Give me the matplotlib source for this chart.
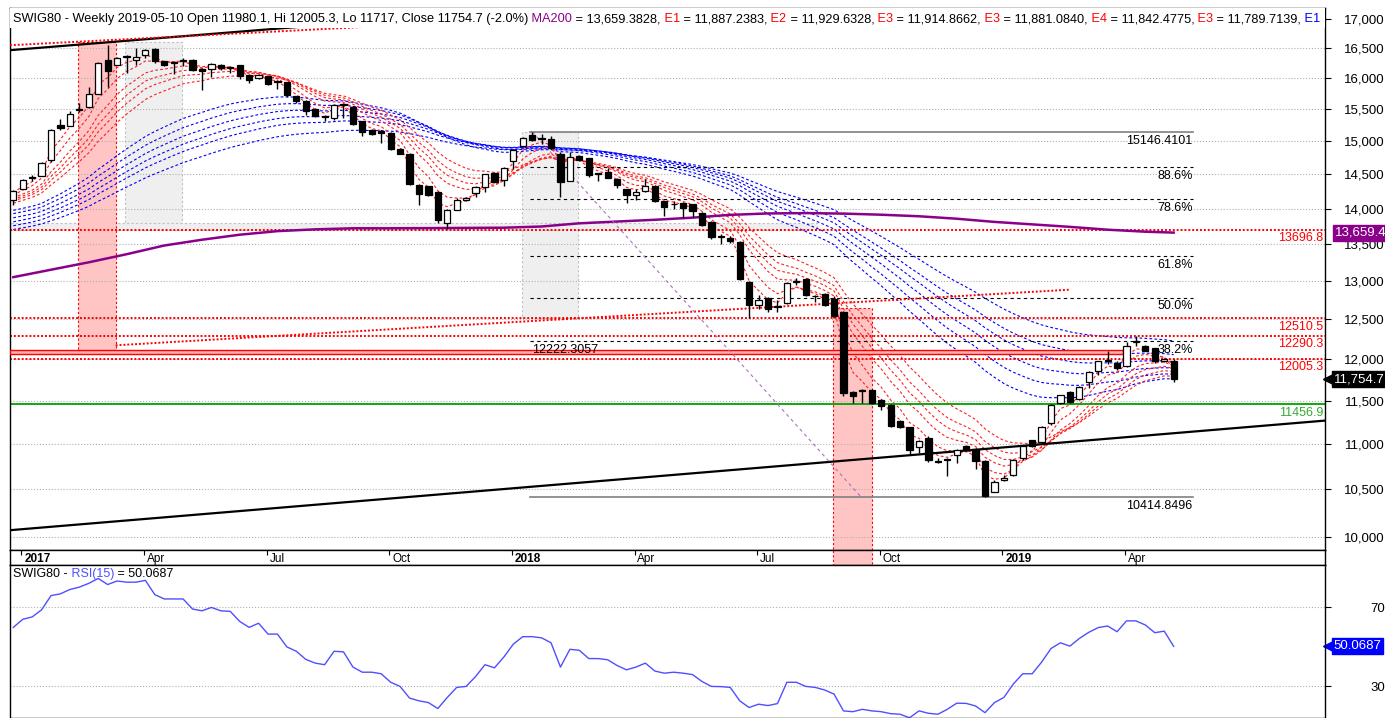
import matplotlib
matplotlib.use("Agg")
import matplotlib.pyplot as plt
from matplotlib.patches import Rectangle
from matplotlib.ticker import FixedLocator, NullLocator, FuncFormatter
import matplotlib.transforms as mtransforms
import numpy as np
import pandas as pd

plt.rcParams['font.family'] = ['Liberation Sans', 'DejaVu Sans']

# weekly bars, first = week ending 2016-12-30, last = 2019-05-10
opens = [14125, 14290, 14440, 14480, 14707, 15245, 15237, 15490, 15530, 15747,
         16300, 16220, 16370, 16300, 16380, 16480, 16280, 16255, 16290, 16305,
         16150, 16155, 16220, 16190, 16210, 16060, 16000, 16030, 15957, 15935,
         15705, 15630, 15505, 15380, 15360, 15560, 15532, 15310, 15180, 15165,
         15134, 14886, 14810, 14345, 14320, 14238, 13790, 13980, 14120, 14219,
         14311, 14525, 14417, 14698, 14926, 15088, 15040, 15036, 14812, 14408,
         14772, 14738, 14505, 14530, 14432, 14277, 14190, 14247, 14330, 14102,
         14060, 14078, 14063, 13933, 13814, 13600, 13590, 13529, 12988, 12677,
         12775, 12660, 12710, 12985, 13027, 12795, 12828, 12762, 12587, 11602,
         11610, 11626, 11504, 11444, 11263, 11188, 10964, 11064, 10810, 10825,
         10880, 10975, 10945, 10812, 10475, 10600, 10656, 10848, 11040, 11026,
         11237, 11466, 11606, 11520, 11720, 11854, 11975, 11951, 11910, 12210,
         12163, 12133, 11971, 11980.1]
highs = [14270, 14430, 14490, 14680, 15185, 15350, 15465, 15600, 15855, 16260,
         16560, 16350, 16385, 16500, 16490, 16500, 16290, 16275, 16340, 16315,
         16160, 16255, 16240, 16200, 16220, 16070, 16070, 16040, 15965, 15945,
         15710, 15640, 15515, 15412, 15580, 15597, 15545, 15320, 15195, 15170,
         15140, 14895, 14820, 14355, 14330, 14250, 13990, 14150, 14170, 14320,
         14510, 14540, 14610, 14880, 15060, 15146.41, 15113, 15077, 14830, 14840,
         14790, 14750, 14510, 14590, 14445, 14290, 14277, 14427, 14340, 14110,
         14102, 14090, 14070, 13957, 13820, 13640, 13614, 13540, 13000, 12810,
         12790, 12744, 12990, 13040, 13040, 12815, 12840, 12800, 12600, 11615,
         11640, 11635, 11515, 11455, 11270, 11195, 11040, 11085, 10844, 10844,
         10945, 10990, 10955, 10820, 10600, 10656, 10837, 10990, 11050, 11200,
         11460, 11570, 11615, 11675, 11850, 11980, 12104, 11980, 12217, 12283,
         12170, 12140, 12010, 12005.3]
lows = [14050, 14280, 14400, 14470, 14690, 15170, 15230, 15450, 15520, 15740,
        15855, 16210, 16090, 16225, 16340, 16255, 16200, 16065, 16200, 16115,
        15800, 16020, 16130, 16090, 15980, 15915, 15980, 15890, 15817, 15700,
        15600, 15412, 15370, 15310, 15325, 15360, 15250, 15077, 15100, 14980,
        14860, 14800, 14340, 14053, 14180, 13790, 13710, 13975, 14110, 14160,
        14238, 14380, 14320, 14580, 14910, 15010, 14960, 14880, 14160, 14400,
        14700, 14466, 14403, 14440, 14296, 14078, 14126, 14240, 14100, 13900,
        13995, 13862, 13886, 13750, 13567, 13500, 13520, 13010, 12513, 12633,
        12598, 12598, 12700, 12940, 12800, 12720, 12670, 12530, 11553, 11474,
        11474, 11460, 11391, 11190, 11180, 10873, 10902, 10800, 10783, 10649,
        10793, 10925, 10721, 10414.85, 10470, 10590, 10650, 10819, 10965, 11000,
        11218, 11460, 11466, 11510, 11655, 11805, 11939, 11870, 11900, 12167,
        12095, 11951, 11960, 11717]
closes = [14260, 14414, 14460, 14672, 15175, 15200, 15430, 15510, 15742, 16245,
          16120, 16340, 16345, 16345, 16475, 16280, 16220, 16270, 16300, 16130,
          16115, 16235, 16160, 16170, 16040, 15978, 16060, 15909, 15930, 15720,
          15630, 15464, 15390, 15375, 15570, 15575, 15273, 15144, 15118, 15128,
          14884, 14812, 14354, 14210, 14200, 13838, 13980, 14125, 14150, 14306,
          14500, 14393, 14600, 14871, 15045, 15025, 15030, 14896, 14393, 14762,
          14713, 14490, 14500, 14452, 14345, 14190, 14238, 14320, 14112, 14029,
          14070, 14015, 13967, 13767, 13600, 13610, 13540, 13032, 12677, 12744,
          12633, 12670, 12974, 12995, 12815, 12800, 12683, 12542, 11594, 11553,
          11615, 11466, 11436, 11203, 11192, 10928, 11030, 10819, 10800, 10830,
          10928, 10938, 10812, 10430, 10576, 10627, 10826, 10982, 10978, 11192,
          11451, 11561, 11489, 11663, 11838, 11971, 11988, 11894, 12167, 12217,
          12104, 11979, 12000, 11754.7]

rsi15 = [59.7, 63.8, 65.0, 68.6, 75.8, 76.7, 78.9, 80.1, 82.0, 84.5,
         81.4, 83.2, 82.6, 82.6, 83.5, 76.3, 74.1, 74.1, 74.1, 69.0,
         68.1, 69.8, 68.1, 67.8, 62.7, 59.7, 61.8, 56.3, 56.3, 49.8,
         47.6, 43.5, 41.6, 40.8, 47.6, 47.3, 39.6, 37.0, 37.0, 36.2,
         31.9, 29.8, 23.9, 22.5, 21.6, 18.6, 24.2, 29.3, 29.8, 34.8,
         40.8, 39.2, 44.7, 51.2, 55.0, 55.0, 54.4, 51.9, 39.6, 48.6,
         48.1, 43.9, 43.9, 43.3, 40.4, 38.2, 39.6, 41.6, 37.6, 36.5,
         37.0, 36.5, 35.8, 32.3, 29.8, 29.7, 29.3, 22.5, 19.1, 20.8,
         20.1, 21.1, 31.9, 31.9, 29.8, 29.3, 28.0, 25.9, 17.4, 17.0,
         18.2, 17.4, 17.0, 16.0, 15.7, 13.9, 17.4, 16.2, 15.7, 18.2,
         21.3, 21.2, 19.9, 16.5, 21.6, 24.2, 31.0, 36.2, 36.2, 42.1,
         49.0, 51.9, 50.2, 54.1, 57.2, 59.6, 60.4, 57.5, 63.0, 63.0,
         60.9, 57.0, 57.8, 50.0687]

# MA200 read every few weeks
ma200_week = [0, 4, 8, 12, 16, 20, 24, 28, 32, 36, 40, 44, 48, 52, 56, 60,
              64, 68, 72, 76, 80, 84, 88, 92, 96, 100, 104, 108, 112, 116, 120, 123]
ma200_val = [13050, 13150, 13250, 13360, 13480, 13560, 13630, 13680, 13705, 13720,
             13720, 13722, 13725, 13728, 13745, 13790, 13815, 13840, 13870, 13910,
             13930, 13935, 13928, 13912, 13890, 13855, 13810, 13775, 13740, 13700,
             13672, 13659.4]

short_spans = [3, 5, 8, 10, 12, 15]
short_seed = [14200, 14160, 14120, 14100, 14080, 14050]
long_spans = [30, 35, 40, 45, 50, 60]
long_seed = [13955, 13908, 13848, 13791, 13735, 13684]

red_levels = [13696.8, 12510.5, 12290.3, 12005.3]
green_level = 11456.9
fib_hi = 15146.4101
fib_lo = 10414.8496
fib_pcts = [0.886, 0.786, 0.618, 0.5, 0.382]

# shaded zones: (week from, week to, price lo, price hi)
pink_zones = [(6.85, 10.85, 12117, 16610), (86.9, 91.0, 9000, 12640)]
grey_zones = [(11.87, 17.85, 13696.8, 16610), (53.9, 59.9, 12510.5, 15146.41),
              (-0.35, 85.2, 13696.8, 13800)]

n = len(closes)
weeks = pd.date_range("2016-12-30", periods=n, freq="W-FRI")
idx = np.arange(n)
o, h, l, c = (np.array(v, dtype=float) for v in (opens, highs, lows, closes))


def ema(vals, span, seed):
    a = 2.0 / (span + 1)
    e = seed
    out = []
    for v in vals:
        e = e + a * (v - e)
        out.append(e)
    return np.array(out)


def log_line(ax, p0, p1, x_from, x_to, **kw):
    (i0, v0), (i1, v1) = p0, p1
    k = (np.log(v1) - np.log(v0)) / (i1 - i0)
    xs = np.array([x_from, x_to])
    ax.plot(xs, v0 * np.exp(k * (xs - i0)), **kw)


def pieces_text(ax, x, y, pieces, **kw):
    t = ax.text(x, y, pieces[0][0], color=pieces[0][1], transform=ax.transAxes,
                va='bottom', ha='left', **kw)
    for s, col in pieces[1:]:
        t = ax.annotate(s, xy=(1, 0), xycoords=t, color=col, va='bottom', ha='left', **kw)
    return t


W, H = 1385, 718
fig = plt.figure(figsize=(W / 100, H / 100), dpi=100)


def px_axes(x0, y0, x1, y1):
    return fig.add_axes([x0 / W, 1 - y1 / H, (x1 - x0) / W, (y1 - y0) / H])


ax = px_axes(10, 8, 1325, 550)
axd = px_axes(10, 550, 1325, 565)
axr = px_axes(10, 565, 1325, 718)

xlim = (-0.35, 139.04)
ax.set_yscale('log')
ax.set_ylim(9868, 17193)
for a in (ax, axd, axr):
    a.set_xlim(*xlim)
    a.set_xticks([])
    for s in a.spines.values():
        s.set_linewidth(1.0)
        s.set_color('black')

# zones
for x0, x1, lo, hi in pink_zones:
    ax.add_patch(Rectangle((x0, lo), x1 - x0, hi - lo, facecolor='#ffc4c4',
                           edgecolor='red', ls=(0, (2, 2)), lw=0.8, zorder=1))
for x0, x1, lo, hi in grey_zones:
    ax.add_patch(Rectangle((x0, lo), x1 - x0, hi - lo, facecolor='#efefef',
                           edgecolor='#c0c0c0', ls=(0, (2, 2)), lw=0.8, zorder=0.5))
axd.axvspan(pink_zones[1][0], pink_zones[1][1], facecolor='#ffc4c4',
            edgecolor='red', ls=(0, (2, 2)), lw=0.8)

# grid
ax.yaxis.set_major_locator(FixedLocator(list(range(10000, 17001, 500))))
ax.yaxis.set_minor_locator(NullLocator())
ax.yaxis.set_major_formatter(FuncFormatter(lambda v, p: f"{int(round(v)):,}"))
ax.grid(axis='y', ls=':', color='#b0b0b0', lw=0.8, zorder=0.8)
ax.yaxis.tick_right()
ax.tick_params(axis='y', direction='out', length=4, pad=39, labelsize=9.5)
for t in ax.get_yticklabels():
    t.set_ha('right')

# guppy averages
for sp, sd in zip(long_spans, long_seed):
    ax.plot(idx, ema(c, sp, sd), color='#0000ff', lw=0.8, ls=(0, (2.5, 2)), zorder=2)
for sp, sd in zip(short_spans, short_seed):
    ax.plot(idx, ema(c, sp, sd), color='#ff2020', lw=0.8, ls=(0, (2.5, 2)), zorder=2.1)

ax.plot(ma200_week, ma200_val, color='#8b008b', lw=1.8, zorder=3)

# horizontal levels
bt = mtransforms.blended_transform_factory(ax.transAxes, ax.transData)
for lv in red_levels:
    ax.axhline(lv, color='red', ls=(0, (1, 1)), lw=1.4, zorder=2.5)
    ax.text(0.9985, lv * 0.9975, f"{lv}", color='red', fontsize=9, ha='right', va='top',
            transform=bt)
ax.axhline(green_level, color='#00a000', lw=1.3, zorder=2.5)
ax.text(0.9985, green_level * 0.9975, f"{green_level}", color='#33aa33', fontsize=9,
        ha='right', va='top', transform=bt)
ax.add_patch(Rectangle((-0.35, 12060), 118.0, 50, facecolor='#ffb0b0', edgecolor='red',
                       lw=1.0, zorder=2.6))

# fibonacci
fx0, fx1 = 54.8, 125.0
ax.plot([fx0, fx1], [fib_hi, fib_hi], color='#808080', lw=1.2, zorder=2.4)
ax.plot([fx0, fx1], [fib_lo, fib_lo], color='#808080', lw=1.2, zorder=2.4)
ax.text(fx1, fib_hi * 0.997, f"{fib_hi}", fontsize=9, ha='right', va='top')
ax.text(fx1, fib_lo * 0.997, f"{fib_lo}", fontsize=9, ha='right', va='top')
for p in fib_pcts:
    lv = fib_lo + p * (fib_hi - fib_lo)
    ax.plot([fx0, fx1], [lv, lv], color='black', lw=0.8, ls=(0, (3, 3)), zorder=2.4)
    ax.text(fx1, lv * 0.997, f"{p * 100:.1f}%", fontsize=9, ha='right', va='top')
lv382 = fib_lo + 0.382 * (fib_hi - fib_lo)
ax.text(fx0 + 0.2, lv382 * 0.997, f"{lv382:.4f}", fontsize=9, ha='left', va='top')

# trend lines
log_line(ax, (0, 10073), (123, 11122), xlim[0], xlim[1], color='black', lw=1.6, zorder=3)
log_line(ax, (-0.2, 16468), (30, 16860), xlim[0], 45, color='black', lw=1.6, zorder=3)
log_line(ax, (-0.17, 16551), (30.7, 16808), xlim[0], 40, color='red', ls=(0, (1, 1)),
         lw=1.4, zorder=3)
log_line(ax, (10.85, 12170), (112, 12884), 10.85, 112, color='red', ls=(0, (1, 1)),
         lw=1.4, zorder=3)
ax.plot([55, 89.9], [fib_hi, fib_lo], color='#b070c0', lw=0.8, ls=(0, (3, 3)), zorder=3)

# candles
up = c >= o
blo = np.minimum(o, c)
bh = np.maximum(np.abs(c - o), blo * 0.0009)
ax.vlines(idx, l, h, color='black', lw=1.0, zorder=5)
ax.bar(idx[up], bh[up], bottom=blo[up], width=0.66, facecolor='white',
       edgecolor='black', lw=0.9, zorder=6)
ax.bar(idx[~up], bh[~up], bottom=blo[~up], width=0.66, facecolor='black',
       edgecolor='black', lw=0.9, zorder=6)

# title band
ax.add_patch(Rectangle((0, (550 - 28) / 542), 1, 28 / 542, transform=ax.transAxes,
                       facecolor='white', edgecolor='none', zorder=8))
title = [("SWIG80 - Weekly 2019-05-10 Open 11980.1, Hi 12005.3, Lo 11717, Close 11754.7 (-2.0%)", 'black'),
         (" MA200", '#8b008b'), (" = 13,659.3828,", 'black'),
         (" E1", 'red'), (" = 11,887.2383,", 'black'),
         (" E2", 'red'), (" = 11,929.6328,", 'black'),
         (" E3", 'red'), (" = 11,914.8662,", 'black'),
         (" E3", 'red'), (" = 11,881.0840,", 'black'),
         (" E4", 'red'), (" = 11,842.4775,", 'black'),
         (" E3", 'red'), (" = 11,789.7139,", 'black'),
         (" E1", 'blue')]
pieces_text(ax, 0.0023, (550 - 25) / 542, title, fontsize=9.2, zorder=9)

# right-edge value tags
ax.text(1.0065, closes[-1], f"{closes[-1]:,.1f}", transform=bt, color='white', fontsize=9.5,
        va='center', ha='left', clip_on=False, zorder=10,
        bbox=dict(boxstyle='square,pad=0.15', facecolor='black', edgecolor='black'))
ax.plot([1.0025], [closes[-1]], marker='<', ms=7, color='black', transform=bt,
        clip_on=False, zorder=10)
ax.text(1.0075, ma200_val[-1], f"{ma200_val[-1]:,.1f}", transform=bt, color='white',
        fontsize=9.5, va='center', ha='left', clip_on=False, zorder=10,
        bbox=dict(boxstyle='square,pad=0.15', facecolor='#8b008b', edgecolor='#8b008b'))

# date band
tick_w, tick_lab = [], []
for i in range(1, n):
    if weeks[i].month != weeks[i - 1].month and weeks[i].month in (1, 4, 7, 10):
        tick_w.append(i)
        tick_lab.append(str(weeks[i].year) if weeks[i].month == 1 else weeks[i].strftime('%b'))
axd.set_ylim(0, 1)
axd.set_yticks([])
axd.vlines(np.array(tick_w) - 0.15, 0.7, 1.0, color='black', lw=0.8)
for w, lab in zip(tick_w, tick_lab):
    axd.text(w + 0.15, 0.42, lab, fontsize=8.5, va='center', ha='left',
             fontweight='bold' if lab.isdigit() else 'normal')

# RSI
axr.set_ylim(13.8, 91.3)
axr.plot(idx, rsi15, color='#4f4fff', lw=1.0)
axr.yaxis.set_major_locator(FixedLocator([30, 70]))
axr.yaxis.tick_right()
axr.tick_params(axis='y', direction='out', length=4, pad=39, labelsize=9.5)
for t in axr.get_yticklabels():
    t.set_ha('right')
axr.grid(axis='y', ls=':', color='#b0b0b0', lw=0.8)
pieces_text(axr, 0.0023, 0.9, [("SWIG80 -", 'black'), (" RSI(15)", '#4f4fff'),
                               (" = 50.0687", 'black')], fontsize=9)
rt = mtransforms.blended_transform_factory(axr.transAxes, axr.transData)
axr.text(1.0065, rsi15[-1], f"{rsi15[-1]}", transform=rt, color='white', fontsize=9.5,
         va='center', ha='left', clip_on=False,
         bbox=dict(boxstyle='square,pad=0.15', facecolor='#0000ff', edgecolor='#0000ff'))
axr.plot([1.0025], [rsi15[-1]], marker='<', ms=7, color='#0000ff', transform=rt,
         clip_on=False)

fig.savefig("out.png", dpi=100)
